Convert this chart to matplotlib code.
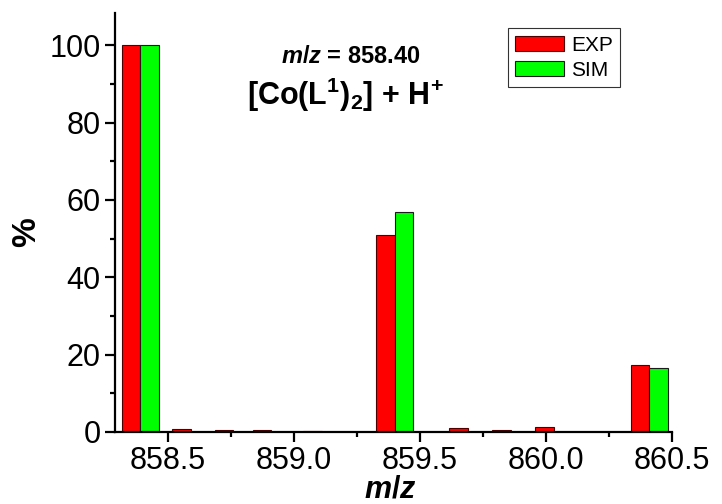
import numpy as np
import matplotlib.pyplot as plt
from matplotlib.ticker import MultipleLocator

plt.rcParams['font.family'] = ['Liberation Sans', 'DejaVu Sans']
plt.rcParams['mathtext.fontset'] = 'custom'
plt.rcParams['mathtext.rm'] = 'Liberation Sans:bold'
plt.rcParams['mathtext.bf'] = 'Liberation Sans:bold'
plt.rcParams['mathtext.it'] = 'Liberation Sans:bold:italic'

# experimental (red) and simulated (green) isotope pattern
exp_mz = [858.39, 858.59, 858.76, 858.91, 859.11, 859.40, 859.69, 859.86, 860.03, 860.41]
exp_int = [100, 0.7, 0.4, 0.4, 0.2, 51, 1.0, 0.6, 1.2, 17.3]
sim_mz = [858.39, 859.40, 860.41]
sim_int = [100, 57, 16.5]
xticks = [858.5, 859.0, 859.5, 860.0, 860.5]
yticks = [0, 20, 40, 60, 80, 100]

w = 0.074

fig = plt.figure(figsize=(7.22, 5.04), dpi=100)
ax = fig.add_axes([0.1593, 0.1429, 0.7714, 0.831])

ax.bar(np.array(exp_mz) - w / 2, exp_int, width=w, color='#ff0000',
       edgecolor='#4d0000', linewidth=0.8, label='EXP')
ax.bar(np.array(sim_mz) + w / 2, sim_int, width=w, color='#00ff00',
       edgecolor='#1a1a1a', linewidth=0.8, label='SIM')

ax.set_xlim(858.29, 860.5)
ax.set_ylim(0, 108.3)
ax.set_xticks(xticks)
ax.set_xticklabels(['%.1f' % t for t in xticks])
ax.set_yticks(yticks)
ax.xaxis.set_minor_locator(MultipleLocator(0.25))
ax.yaxis.set_minor_locator(MultipleLocator(10))

for s in ['top', 'right']:
    ax.spines[s].set_visible(False)
for s in ['left', 'bottom']:
    ax.spines[s].set_linewidth(1.6)
ax.tick_params(which='major', direction='out', length=7.2, width=1.6,
               labelsize=22, pad=3)
ax.tick_params(which='minor', direction='out', length=3.6, width=1.6)

fig.text(0.037, 0.54, '%', rotation=90, ha='center', va='center',
         fontsize=24, fontweight='bold')
fig.text(0.54, 0.0, '$m/z$', ha='center', va='bottom', fontsize=22)

fig.text(0.486, 0.875, '$m/z$ = 858.40', ha='center', va='baseline',
         fontsize=17, fontweight='bold')
fig.text(0.478, 0.792, r'[Co(L$^{\mathbf{1}}$)$_{\mathbf{2}}$] + H$^{\mathbf{+}}$',
         ha='center', va='baseline', fontsize=22, fontweight='bold')

leg = ax.legend(loc='upper left', bbox_to_anchor=(0.7056, 0.964), fontsize=15,
                frameon=True, fancybox=False, edgecolor='black',
                handlelength=2.35, handleheight=0.77, handletextpad=0.33,
                labelspacing=0.3, borderpad=0.35, borderaxespad=0)
leg.get_frame().set_linewidth(0.8)

fig.savefig('out.png', dpi=100)
